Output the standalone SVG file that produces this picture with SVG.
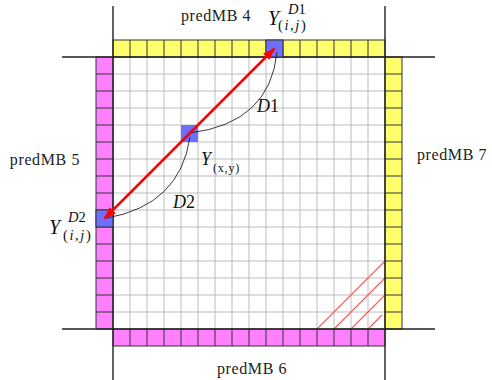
<svg xmlns="http://www.w3.org/2000/svg" width="492" height="380" viewBox="0 0 492 380">
<style>
.lbl{font-family:"Liberation Serif","DejaVu Serif",serif;font-size:16px;letter-spacing:0.6px;fill:#222}
.m{font-family:"Liberation Serif","DejaVu Serif",serif;fill:#111}
.it{font-style:italic}
.grid{stroke:#bdbdbd;stroke-width:1;fill:none}
.sep{stroke:#333;stroke-width:1;fill:none}
.yel{fill:#ffff6e;stroke:#333;stroke-width:1}
.mag{fill:#ff80ff;stroke:#333;stroke-width:1}
.blue{fill:#6e6eff;stroke:#333;stroke-width:1}
.frame{stroke:#222;stroke-width:1.4;fill:none}
.hatch{stroke:#ff5c5c;stroke-width:1.2;fill:none}
.curve{stroke:#222;stroke-width:0.9;fill:none}
</style>
<defs>
<marker id="ah" markerUnits="userSpaceOnUse" markerWidth="14" markerHeight="10" refX="12" refY="4.5" orient="auto-start-reverse">
<path d="M0,0 L13,4.5 L0,9 z" fill="#ff0000"/>
</marker>
</defs>
<rect x="0" y="0" width="492" height="380" fill="#fff"/>
<g id="grid">
<path class="grid" d="M130,57V329M147,57V329M164,57V329M181,57V329M198,57V329M215,57V329M232,57V329M249,57V329M266,57V329M283,57V329M300,57V329M317,57V329M334,57V329M351,57V329M368,57V329M113,74H385M113,91H385M113,108H385M113,125H385M113,142H385M113,159H385M113,176H385M113,193H385M113,210H385M113,227H385M113,244H385M113,261H385M113,278H385M113,295H385M113,312H385"/>
</g>
<g id="hatch">
<path class="hatch" d="M317,329L385,261M334,329L385,278M351,329L385,295M368,329L382,315"/>
</g>
<g id="predMB4">
<rect class="yel" x="113" y="40" width="272" height="17"/>
<path class="sep" d="M130,40V57M147,40V57M164,40V57M181,40V57M198,40V57M215,40V57M232,40V57M249,40V57M266,40V57M283,40V57M300,40V57M317,40V57M334,40V57M351,40V57M368,40V57"/>
<text class="lbl" x="181" y="21">predMB 4</text>
</g>
<g id="predMB7">
<rect class="yel" x="385" y="57" width="17" height="272"/>
<path class="sep" d="M385,74H402M385,91H402M385,108H402M385,125H402M385,142H402M385,159H402M385,176H402M385,193H402M385,210H402M385,227H402M385,244H402M385,261H402M385,278H402M385,295H402M385,312H402"/>
<text class="lbl" x="417" y="160">predMB 7</text>
</g>
<g id="predMB5">
<rect class="mag" x="96" y="57" width="17" height="272"/>
<path class="sep" d="M96,74H113M96,91H113M96,108H113M96,125H113M96,142H113M96,159H113M96,176H113M96,193H113M96,210H113M96,227H113M96,244H113M96,261H113M96,278H113M96,295H113M96,312H113"/>
<text class="lbl" x="80" y="165" text-anchor="end">predMB 5</text>
</g>
<g id="predMB6">
<rect class="mag" x="113" y="329" width="272" height="17"/>
<path class="sep" d="M130,329V346M147,329V346M164,329V346M181,329V346M198,329V346M215,329V346M232,329V346M249,329V346M266,329V346M283,329V346M300,329V346M317,329V346M334,329V346M351,329V346M368,329V346"/>
<text class="lbl" x="217" y="374">predMB 6</text>
</g>
<g id="frame">
<path class="frame" d="M113,6V380M385,6V380M62,57H435M62,329H435"/>
</g>
<g id="YD1">
<rect class="blue" x="266" y="40" width="17" height="17"/>
<text class="m it" x="268" y="25" font-size="20">Y</text>
<text class="m" x="288" y="14" font-size="14.5"><tspan class="it">D</tspan>1</text>
<text class="m" x="278" y="30" font-size="14.5" letter-spacing="1.6">(<tspan class="it">i</tspan>,<tspan class="it">j</tspan>)</text>
</g>
<g id="YD2">
<rect class="blue" x="96" y="210" width="17" height="17"/>
<text class="m it" x="49" y="234" font-size="20">Y</text>
<text class="m" x="68" y="222" font-size="14.5"><tspan class="it">D</tspan>2</text>
<text class="m" x="63" y="240" font-size="14.5" letter-spacing="1.6">(<tspan class="it">i</tspan>,<tspan class="it">j</tspan>)</text>
</g>
<g id="Yxy">
<rect x="181" y="125" width="17" height="17" fill="#6e6eff"/>
<text class="m it" x="201" y="165" font-size="18">Y</text>
<text class="m" x="213" y="172" font-size="12" letter-spacing="0.8">(x,y)</text>
</g>
<g id="connectors">
<path class="curve" d="M190,133 Q270,123 277,52"/>
<path class="curve" d="M190,137 Q180,205 107,218"/>
<line x1="104.5" y1="218.5" x2="274.5" y2="48.5" stroke="#ff0000" stroke-width="2.5" marker-start="url(#ah)" marker-end="url(#ah)"/>
<text class="m" x="257" y="112" font-size="18"><tspan class="it">D</tspan>1</text>
<text class="m" x="173" y="208" font-size="18"><tspan class="it">D</tspan>2</text>
</g>
</svg>
